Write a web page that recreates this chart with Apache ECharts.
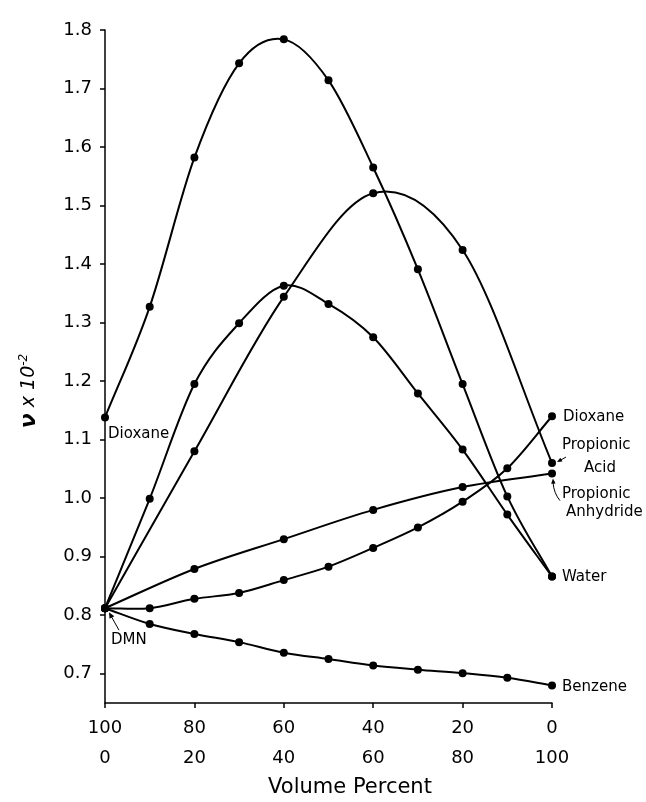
<!DOCTYPE html>
<html><head><meta charset="utf-8">
<script src="https://cdn.jsdelivr.net/npm/echarts@6/dist/echarts.min.js"></script>
<style>html,body{margin:0;padding:0;background:#fff}#c{width:646px;height:802px}</style>
</head><body><div id="c"></div>
<script>
// x = volume percent of the second component (DMN percent = 100 - x)
const xPercent = [0, 10, 20, 30, 40, 50, 60, 70, 80, 90, 100];
const xEvery20 = [0, 20, 40, 60, 80, 100];
const xTopLabels = ['100', '80', '60', '40', '20', '0'];
const xBottomLabels = ['0', '20', '40', '60', '80', '100'];
const yTickLabels = ['0.7','0.8','0.9','1.0','1.1','1.2','1.3','1.4','1.5','1.6','1.7','1.8'];

const dioxaneWater     = [1.138, 1.327, 1.582, 1.743, 1.784, 1.714, 1.565, 1.391, 1.195, 1.003, 0.866];
const dmnWater         = [0.812, 0.999, 1.195, 1.299, 1.363, 1.332, 1.275, 1.179, 1.083, 0.972, 0.866];
const dmnPropAcid      = [0.812, 1.080, 1.344, 1.521, 1.424, 1.060];
const dmnDioxane       = [0.812, 0.812, 0.828, 0.838, 0.860, 0.883, 0.915, 0.950, 0.994, 1.051, 1.140];
const dmnPropAnhydride = [0.812, 0.879, 0.930, 0.980, 1.019, 1.042];
const dmnBenzene       = [0.812, 0.785, 0.768, 0.754, 0.736, 0.725, 0.714, 0.707, 0.701, 0.693, 0.680];

const FONT = 'DejaVu Sans';
const LBL = '15px "' + FONT + '"';
const chart = echarts.init(document.getElementById('c'), null, {renderer: 'canvas'});

function pairs(xs, ys) { return xs.map((x, i) => [x, ys[i]]); }

// smooth curve through the data points (Catmull-Rom segments, positioned through the axes)
function curveLine(name, xs, ys) {
  return {
    name, type: 'custom', coordinateSystem: 'cartesian2d',
    data: pairs(xs, ys), encode: {x: 0, y: 1}, z: 2, silent: true,
    renderItem: (params, api) => {
      const i = params.dataIndex, n = xs.length;
      if (i >= n - 1) return null;
      const P = k => api.coord([xs[k], ys[k]]);
      const p1 = P(i), p2 = P(i + 1);
      const p0 = i > 0 ? P(i - 1) : null;
      const p3 = i + 2 < n ? P(i + 2) : null;
      const t1 = p0 ? [(p2[0] - p0[0]) / 2, (p2[1] - p0[1]) / 2] : [p2[0] - p1[0], p2[1] - p1[1]];
      const t2 = p3 ? [(p3[0] - p1[0]) / 2, (p3[1] - p1[1]) / 2] : [p2[0] - p1[0], p2[1] - p1[1]];
      return {
        type: 'bezierCurve',
        shape: {x1: p1[0], y1: p1[1], cpx1: p1[0] + t1[0] / 3, cpy1: p1[1] + t1[1] / 3,
                cpx2: p2[0] - t2[0] / 3, cpy2: p2[1] - t2[1] / 3, x2: p2[0], y2: p2[1]},
        style: {stroke: '#000', lineWidth: 2, fill: null}
      };
    }
  };
}
function curvePoints(name, xs, ys) {
  return {
    name, type: 'scatter', data: pairs(xs, ys), symbol: 'circle', symbolSize: 8,
    itemStyle: {color: '#000', opacity: 1}, emphasis: {disabled: true}, z: 3, silent: true
  };
}
const curves = [
  ['Dioxane–Water', xPercent, dioxaneWater],
  ['DMN–Water', xPercent, dmnWater],
  ['DMN–Propionic Acid', xEvery20, dmnPropAcid],
  ['DMN–Dioxane', xPercent, dmnDioxane],
  ['DMN–Propionic Anhydride', xEvery20, dmnPropAnhydride],
  ['DMN–Benzene', xPercent, dmnBenzene]
];
const series = [];
curves.forEach(c => { series.push(curveLine(...c)); series.push(curvePoints(...c)); });

chart.setOption({
  backgroundColor: '#fff',
  animation: false,
  grid: {left: 105, right: 94, top: 30, bottom: 99, containLabel: false},
  xAxis: {
    type: 'value', min: 0, max: 100, interval: 20,
    axisLine: {show: true, lineStyle: {color: '#000', width: 1.5}},
    axisTick: {show: true, length: 5, lineStyle: {color: '#000', width: 1.5}},
    splitLine: {show: false},
    axisLabel: {
      margin: 10, color: '#000', fontFamily: FONT, fontSize: 18, lineHeight: 30,
      formatter: v => { const i = Math.round(v / 20); return xTopLabels[i] + '\n' + xBottomLabels[i]; }
    }
  },
  yAxis: {
    type: 'value', min: 0.65, max: 1.8, splitNumber: 11,
    axisLine: {show: true, lineStyle: {color: '#000', width: 1.5}},
    axisTick: {show: true, length: 5, lineStyle: {color: '#000', width: 1.5}},
    splitLine: {show: false},
    axisLabel: {
      margin: 13, color: '#000', fontFamily: FONT, fontSize: 18,
      showMinLabel: false,
      formatter: v => { const i = Math.round((v - 0.7) / 0.1); return (Math.abs(v - (0.7 + i * 0.1)) < 1e-6 && yTickLabels[i]) ? yTickLabels[i] : ''; }
    }
  },
  series
});

// annotations placed relative to data points
const px = (x, y) => chart.convertToPixel({gridIndex: 0}, [x, y]);
const txt = (text, x, y, align) => ({
  type: 'text', x, y,
  style: {text, fill: '#000', font: LBL, textAlign: align || 'left', textVerticalAlign: 'middle'}
});
const arrowHead = (tip, from, size) => {
  const dx = tip[0] - from[0], dy = tip[1] - from[1];
  const L = Math.hypot(dx, dy), ux = dx / L, uy = dy / L;
  const bx = tip[0] - ux * size, by = tip[1] - uy * size;
  const w = size * 0.45;
  return {type: 'polygon', shape: {points: [tip, [bx - uy * w, by + ux * w], [bx + uy * w, by - ux * w]]}, style: {fill: '#000'}};
};

const pDioxL = px(xPercent[0], dioxaneWater[0]);
const pDMN = px(xPercent[0], dmnBenzene[0]);
const pDioxR = px(xPercent[10], dmnDioxane[10]);
const pAcid = px(xEvery20[5], dmnPropAcid[5]);
const pAnh = px(xEvery20[5], dmnPropAnhydride[5]);
const pWater = px(xPercent[10], dmnWater[10]);
const pBenz = px(xPercent[10], dmnBenzene[10]);

const g = [];
g.push(txt('Dioxane', pDioxL[0] + 3, pDioxL[1] + 17));
g.push(txt('DMN', pDMN[0] + 6, pDMN[1] + 32));
g.push({type: 'line', shape: {x1: pDMN[0] + 14, y1: pDMN[1] + 22, x2: pDMN[0] + 5, y2: pDMN[1] + 6}, style: {stroke: '#000', lineWidth: 1}});
g.push(arrowHead([pDMN[0] + 4, pDMN[1] + 4], [pDMN[0] + 14, pDMN[1] + 22], 6));

g.push(txt('Dioxane', pDioxR[0] + 11, pDioxR[1] + 1));
g.push(txt('Propionic', pAcid[0] + 10, pAcid[1] - 18));
g.push(txt('Acid', pAcid[0] + 48, pAcid[1] + 5, 'center'));
g.push({type: 'line', shape: {x1: pAcid[0] + 14, y1: pAcid[1] - 6, x2: pAcid[0] + 7, y2: pAcid[1] - 2}, style: {stroke: '#000', lineWidth: 1}});
g.push(arrowHead([pAcid[0] + 5, pAcid[1] - 1], [pAcid[0] + 14, pAcid[1] - 6], 5));

g.push(txt('Propionic', pAnh[0] + 10, pAnh[1] + 21));
g.push(txt('Anhydride', pAnh[0] + 14, pAnh[1] + 39));
g.push({type: 'bezierCurve', shape: {x1: pAnh[0] + 8, y1: pAnh[1] + 27, cpx1: pAnh[0] + 2, cpy1: pAnh[1] + 20, x2: pAnh[0] + 1, y2: pAnh[1] + 9}, style: {stroke: '#000', lineWidth: 1, fill: null}});
g.push(arrowHead([pAnh[0] + 1, pAnh[1] + 5], [pAnh[0] + 1.5, pAnh[1] + 12], 5));

g.push(txt('Water', pWater[0] + 10, pWater[1] + 1));
g.push(txt('Benzene', pBenz[0] + 10, pBenz[1] + 2));

// axis titles
g.push({type: 'text', x: 350, y: 788, style: {text: 'Volume Percent', fill: '#000', font: '21px "' + FONT + '"', textAlign: 'center', textVerticalAlign: 'middle'}});
g.push({
  type: 'text', x: 29, y: 391, rotation: Math.PI / 2,
  style: {
    text: '{n|ν} x 10{s|-2}', fill: '#000', textAlign: 'center', textVerticalAlign: 'middle',
    font: 'italic 19px "' + FONT + '"',
    rich: {
      n: {font: 'italic bold 22px "' + FONT + '"', fill: '#000'},
      s: {font: 'italic 12px "' + FONT + '"', fill: '#000', verticalAlign: 'top', padding: [0, 0, 10, 0]}
    }
  }
});
chart.setOption({graphic: g});
</script>
</body></html>
